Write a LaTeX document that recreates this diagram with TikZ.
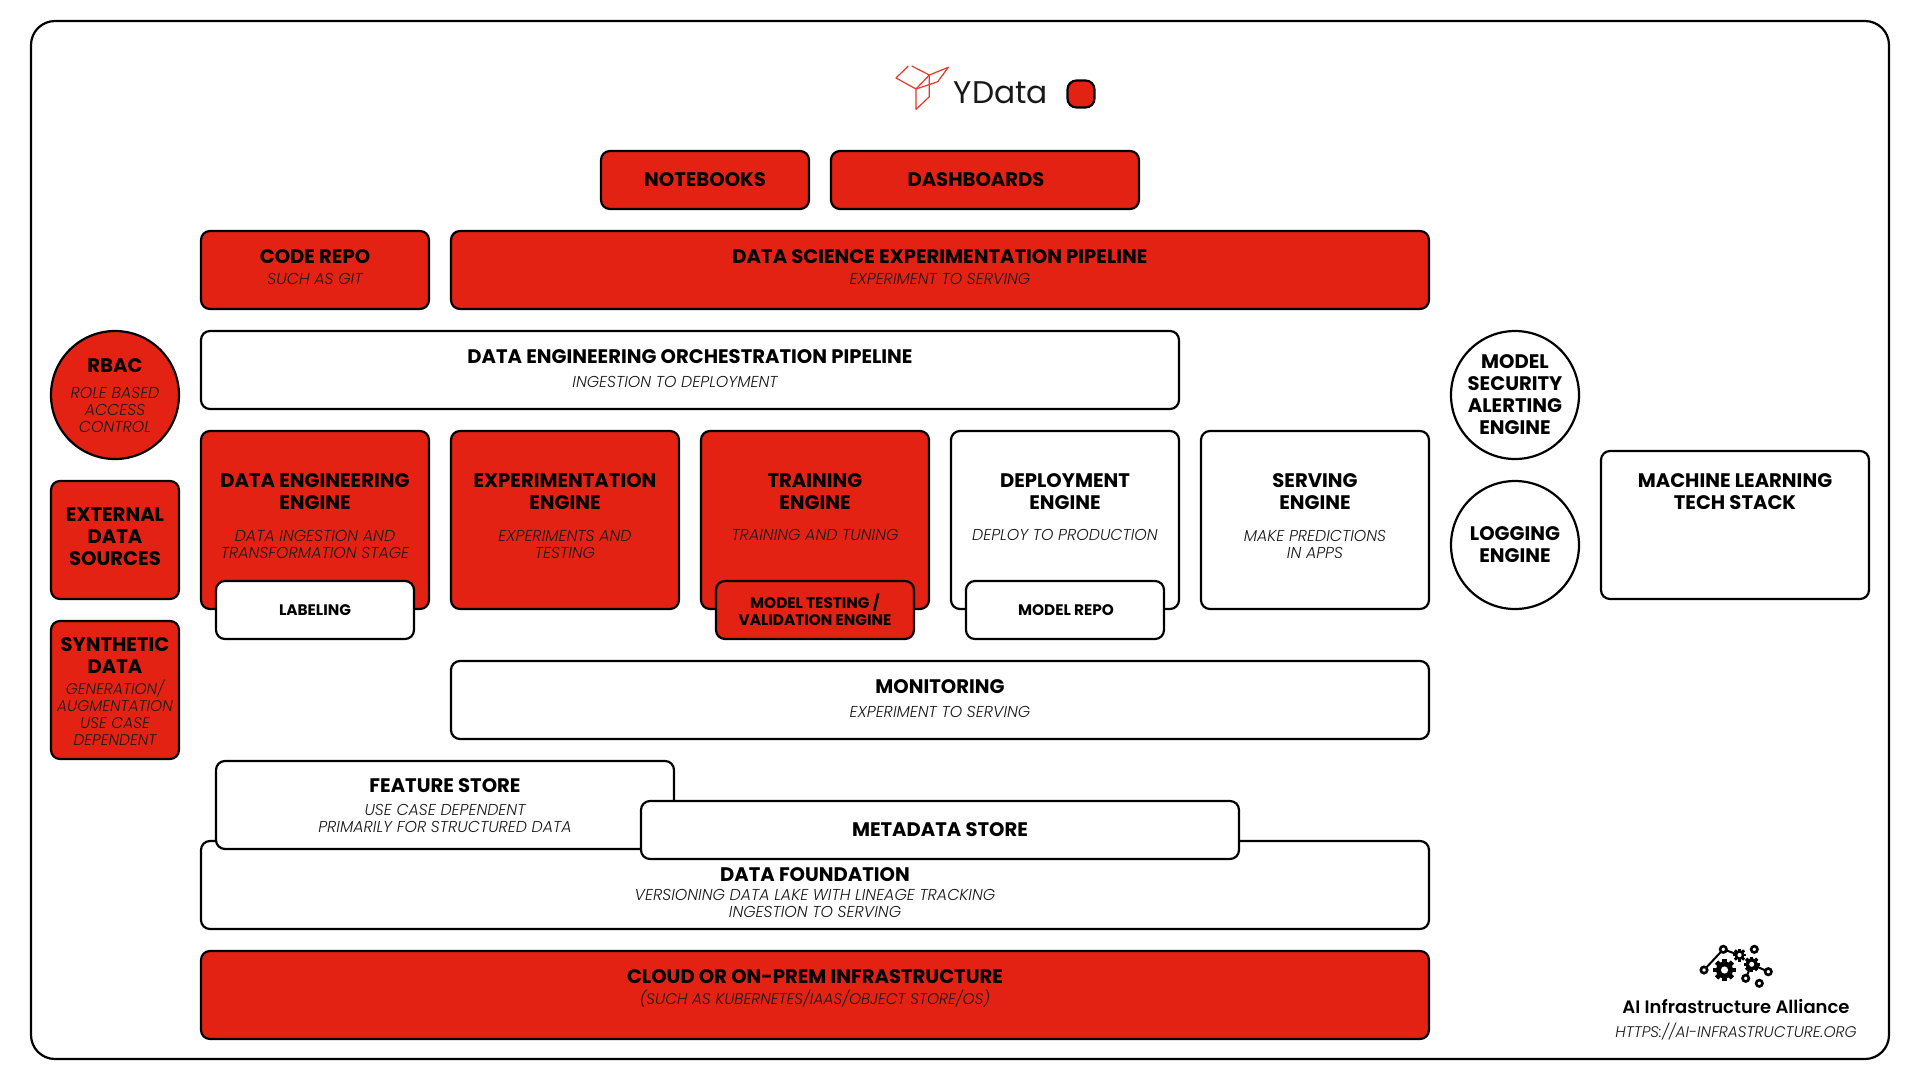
\documentclass[tikz,border=0pt]{standalone}
\usepackage{fontspec}
\setmainfont{Poppins}
\newfontfamily\subf{Poppins Light Italic}
\newfontfamily\headf{Poppins Bold}
\newfontfamily\brandf{Poppins SemiBold}
\definecolor{ydred}{HTML}{E32213}
\tikzset{
  box/.style={draw=black,line width=2.2pt,rounded corners=9pt},
  redbox/.style={box,fill=ydred},
  whitebox/.style={box,fill=white},
  ttl/.style={align=center,inner sep=0pt,font=\headf\fontsize{19.6}{22}\selectfont,text=black},
  small/.style={align=center,inner sep=0pt,font=\headf\fontsize{15.3}{17}\selectfont,text=black},
  sub/.style={align=center,inner sep=0pt,font=\subf\fontsize{15.8}{17}\selectfont,text=black!90},
  subnarrow/.style={align=center,inner sep=0pt,font=\subf\fontsize{15.4}{17}\selectfont,text=black!90},
  logoline/.style={draw=ydred!90,line width=1.2pt,line join=round},
  gearline/.style={draw=black,line width=2pt},
  hole/.style={draw=black,fill=white,line width=2.6pt},
}
\newcommand{\gearshape}[3]{% x,y,radius
  \foreach \a in {0,45,...,315}{\fill[black,shift={(#1,#2)},rotate=\a] (-0.26*#3,-1.3*#3) rectangle (0.26*#3,1.3*#3);}
  \fill[black] (#1,#2) circle[radius=#3];
  \fill[white] (#1,#2) circle[radius=0.42*#3];
}
\begin{document}
\begin{tikzpicture}[x=1pt,y=-1pt]
\useasboundingbox (0,0) rectangle (1920,1080);
\fill[white] (0,0) rectangle (1920,1080);
\draw[box,rounded corners=24pt] (31,21) rectangle (1889,1059);
% YData logo
\draw[logoline] (908.3,66) -- (896,78) -- (916,89) -- (929.3,75) -- (911.7,66);
\draw[logoline] (929.3,75) -- (948.3,67.3) -- (937.7,81.7) -- (916,89);
\draw[logoline] (929.3,75) -- (929.3,96.7) -- (916,109.3) -- (916,89);
\node[inner sep=0pt,font=\fontsize{31.3}{34}\selectfont,text=black!90] (ydata) at (1001,93) {YData};
\node[redbox,minimum width=27pt,minimum height=27pt,inner sep=0pt] (legend) at (1081,94) {};
% top row
\node[redbox,minimum width=208pt,minimum height=58pt] (notebooksbox) at (705,180) {};
\node[ttl] (notebooks) at (705,180) {NOTEBOOKS};
\node[redbox,minimum width=308pt,minimum height=58pt] (dashboardsbox) at (985,180) {};
\node[ttl] (dashboards) at (976,180) {DASHBOARDS};
\node[redbox,minimum width=228pt,minimum height=78pt] (codebox) at (315,270) {};
\node[ttl] (code) at (315,257) {CODE REPO};
\node[sub] (codesub) at (315,279) {SUCH AS GIT};
\node[redbox,minimum width=978pt,minimum height=78pt] (dsbox) at (940,270) {};
\node[ttl] (ds) at (940,257) {DATA SCIENCE EXPERIMENTATION PIPELINE};
\node[sub] (dssub) at (940,279) {EXPERIMENT TO SERVING};
\node[whitebox,minimum width=978pt,minimum height=78pt] (debox) at (690,370) {};
\node[ttl] (de) at (690,357) {DATA ENGINEERING ORCHESTRATION PIPELINE};
\node[sub] (desub) at (675,382) {INGESTION TO DEPLOYMENT};
% engines
\node[redbox,minimum width=228pt,minimum height=178pt] (e1) at (315,520) {};
\node[ttl] (e1t) at (315,492) {DATA ENGINEERING\\ENGINE};
\node[sub] (e1s) at (315,544) {DATA INGESTION AND\\TRANSFORMATION STAGE};
\node[redbox,minimum width=228pt,minimum height=178pt] (e2) at (565,520) {};
\node[ttl] (e2t) at (565,492) {EXPERIMENTATION\\ENGINE};
\node[sub] (e2s) at (565,544) {EXPERIMENTS AND\\TESTING};
\node[redbox,minimum width=228pt,minimum height=178pt] (e3) at (815,520) {};
\node[ttl] (e3t) at (815,492) {TRAINING\\ENGINE};
\node[sub] (e3s) at (815,535) {TRAINING AND TUNING};
\node[whitebox,minimum width=228pt,minimum height=178pt] (e4) at (1065,520) {};
\node[ttl] (e4t) at (1065,492) {DEPLOYMENT\\ENGINE};
\node[sub] (e4s) at (1065,535) {DEPLOY TO PRODUCTION};
\node[whitebox,minimum width=228pt,minimum height=178pt] (e5) at (1315,520) {};
\node[ttl] (e5t) at (1315,492) {SERVING\\ENGINE};
\node[sub] (e5s) at (1315,544) {MAKE PREDICTIONS\\IN APPS};
\node[whitebox,minimum width=198pt,minimum height=58pt] (lab) at (315,610) {};
\node[small] (labt) at (315,610.5) {LABELING};
\node[redbox,minimum width=198pt,minimum height=58pt] (mt) at (815,610) {};
\node[small] (mtt) at (815,610) {MODEL TESTING /\\VALIDATION ENGINE};
\node[whitebox,minimum width=198pt,minimum height=58pt] (mr) at (1065,610) {};
\node[small] (mrt) at (1066,610.5) {MODEL REPO};
% monitoring
\node[whitebox,minimum width=978pt,minimum height=78pt] (mon) at (940,700) {};
\node[ttl] (mont) at (940,687) {MONITORING};
\node[sub] (mons) at (940,712) {EXPERIMENT TO SERVING};
% stores
\node[whitebox,minimum width=1228pt,minimum height=88pt] (df) at (815,885) {};
\node[whitebox,minimum width=458pt,minimum height=88pt] (fs) at (445,805) {};
\node[ttl] (fst) at (445,786) {FEATURE STORE};
\node[sub] (fss) at (445,818) {USE CASE DEPENDENT\\PRIMARILY FOR STRUCTURED DATA};
\node[whitebox,minimum width=598pt,minimum height=58pt] (ms) at (940,830) {};
\node[ttl] (mst) at (940,830) {METADATA STORE};
\node[ttl] (dft) at (815,875) {DATA FOUNDATION};
\node[sub] (dfs) at (815,903.5) {VERSIONING DATA LAKE WITH LINEAGE TRACKING\\INGESTION TO SERVING};
\node[redbox,minimum width=1228pt,minimum height=88pt] (cl) at (815,995) {};
\node[ttl] (clt) at (815,977) {CLOUD OR ON-PREM INFRASTRUCTURE};
\node[subnarrow] (cls) at (815,999) {(SUCH AS KUBERNETES/IAAS/OBJECT STORE/OS)};
% left column
\node[redbox,circle,minimum size=128pt,inner sep=0pt] (rbac) at (115,395) {};
\node[ttl] (rbact) at (115,366) {RBAC};
\node[sub] (rbacs) at (115,410) {ROLE BASED\\ACCESS\\CONTROL};
\node[redbox,minimum width=128pt,minimum height=118pt] (ext) at (115,540) {};
\node[ttl] (extt) at (115,537) {EXTERNAL\\DATA\\SOURCES};
\node[redbox,minimum width=128pt,minimum height=138pt] (syn) at (115,690) {};
\node[ttl] (synt) at (115,656) {SYNTHETIC\\DATA};
\node[subnarrow] (syns) at (115,713) {GENERATION/\\AUGMENTATION\\USE CASE\\DEPENDENT};
% right column
\node[whitebox,circle,minimum size=128pt,inner sep=0pt] (sec) at (1515,395) {};
\node[ttl] (sect) at (1515,395) {MODEL\\SECURITY\\ALERTING\\ENGINE};
\node[whitebox,circle,minimum size=128pt,inner sep=0pt] (logg) at (1515,545) {};
\node[ttl] (logt) at (1515,545) {LOGGING\\ENGINE};
\node[whitebox,minimum width=268pt,minimum height=148pt] (ml) at (1735,525) {};
\node[ttl] (mlt) at (1735,492) {MACHINE LEARNING\\TECH STACK};
% alliance logo
\draw[gearline] (1704,970) -- (1723.3,949.3) -- (1739,955);
\draw[gearline] (1751.7,964.3) -- (1768.3,971.7);
\draw[gearline] (1751.7,964.3) -- (1745.7,978.3);
\gearshape{1724.5}{970}{8.5}
\gearshape{1739.5}{955}{5}
\gearshape{1751.7}{964.3}{6}
\draw[hole] (1723.3,949.3) circle[radius=3.2];
\draw[hole] (1704,970) circle[radius=3.2];
\draw[hole] (1754.3,949.3) circle[radius=3.2];
\draw[hole] (1768.3,971.7) circle[radius=3.2];
\draw[hole] (1745.7,978.3) circle[radius=3.2];
\draw[hole] (1759.3,983.3) circle[radius=3.2];
\node[inner sep=0pt,font=\brandf\fontsize{18}{22}\selectfont] (ait) at (1736,1007) {AI Infrastructure Alliance};
\node[subnarrow] (aiu) at (1736,1032) {HTTPS://AI-INFRASTRUCTURE.ORG};
\end{tikzpicture}
\end{document}
